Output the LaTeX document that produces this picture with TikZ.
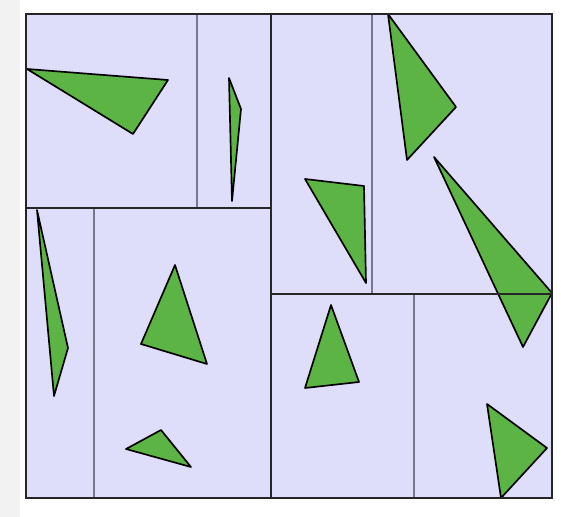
\documentclass[tikz,border=0pt]{standalone}
\definecolor{panel}{RGB}{222,222,250}
\definecolor{tri}{RGB}{91,180,67}
\definecolor{divgray}{RGB}{120,120,140}
\definecolor{strip}{RGB}{242,242,242}
\tikzset{
  panelbox/.style={fill=panel, draw=none},
  major/.style={draw=black!85, line width=1.1pt},
  minor/.style={draw=divgray, line width=0.6pt},
  tribox/.style={fill=tri, draw=black, line width=0.95pt, line join=round}
}
\begin{document}
\begin{tikzpicture}[x=0.02cm,y=-0.02cm]
\useasboundingbox (0,0) rectangle (561,517);
\fill[white] (0,0) rectangle (561,517);
\fill[strip] (0,0) rectangle (20,517);
\fill[panelbox] (26,14) rectangle (552,498);
% minor dividers
\draw[minor] (197,14) -- (197,208);
\draw[minor] (94,208) -- (94,498);
\draw[minor] (372,14) -- (372,294);
\draw[minor] (414,294) -- (414,498);
% triangles
\draw[tribox] (27,69) -- (168,80) -- (133,134) -- cycle;
\draw[tribox] (229,78) -- (241,109) -- (232,201) -- cycle;
\draw[tribox] (388,14) -- (456,107) -- (407,160) -- cycle;
\draw[tribox] (305,179) -- (364,186) -- (366,283) -- cycle;
\draw[tribox] (434,157) -- (552,293) -- (523,347) -- cycle;
\draw[tribox] (37,210) -- (68,348) -- (54,396) -- cycle;
\draw[tribox] (175,265) -- (207,364) -- (141,344) -- cycle;
\draw[tribox] (161,430) -- (191,467) -- (126,449) -- cycle;
\draw[tribox] (331,305) -- (359,382) -- (305,388) -- cycle;
\draw[tribox] (487,404) -- (547,448) -- (501,498) -- cycle;
% major dividers
\draw[major] (26,208) -- (271,208);
\draw[major] (271,294) -- (552,294);
\draw[major] (271,14) -- (271,498);
\draw[major] (26,14) rectangle (552,498);
\end{tikzpicture}
\end{document}
